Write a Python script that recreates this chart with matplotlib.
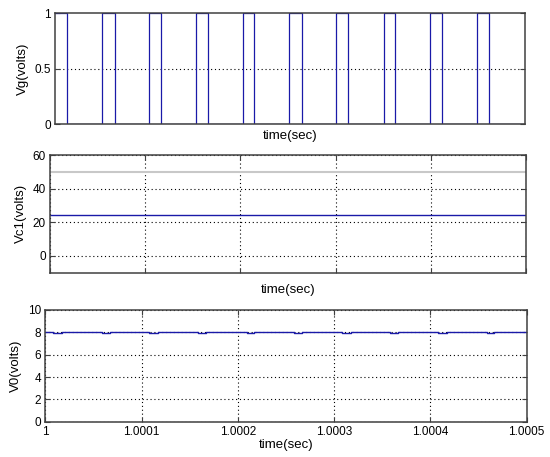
import matplotlib
matplotlib.use("Agg")
import matplotlib.pyplot as plt

plt.rcParams['font.family'] = ['Liberation Sans', 'DejaVu Sans']

# gate pulses (microseconds after t = 1 s)
gate_rise_us = [0, 50, 100, 150, 200, 249, 299, 350, 399, 449]
gate_fall_us = [12.5, 63.5, 113, 162.5, 212, 262.5, 312, 361.5, 412, 462]
gate_low, gate_high = 0, 1

# capacitor voltage traces
vc1_level = 24.2
vc1_ref_level = 50

# output voltage with small dips (microseconds after t = 1 s)
v0_level = 8.0
v0_dip_level = 7.9
v0_dip_start_us = [8, 59, 108, 159, 209, 258, 308, 358, 408, 459]
v0_dip_end_us = [17, 67, 117, 167, 217, 267, 317, 366, 417, 466]

t_start, t_end = 1.0, 1.0005
x_ticks = [1.0, 1.0001, 1.0002, 1.0003, 1.0004, 1.0005]
x_tick_labels = ['1', '1.0001', '1.0002', '1.0003', '1.0004', '1.0005']

BLUE = '#1a1aa8'
SPINE = '#404040'


def square_wave(starts_us, ends_us, base, other):
    t = [t_start]
    y = [base]
    for s, e in zip(starts_us, ends_us):
        ts = t_start + s * 1e-6
        te = t_start + e * 1e-6
        t += [ts, ts, te, te]
        y += [base, other, other, base]
    t.append(t_end)
    y.append(base)
    return t, y


def style(ax):
    for sp in ax.spines.values():
        sp.set_color(SPINE)
        sp.set_linewidth(1.1)
        sp.set_zorder(5)
    ax.tick_params(direction='in', length=3.5, width=0.8, color=SPINE,
                   top=True, right=True, labelsize=8.5, pad=3)
    ax.set_xlim(t_start, t_end)


fig = plt.figure(figsize=(5.5, 4.57), dpi=100)
W, H = 550, 457


def add_axes(left, right, top, bottom):
    return fig.add_axes([left / W, 1 - bottom / H, (right - left) / W, (bottom - top) / H])


# panel 1: gate signal
ax1 = add_axes(55.3, 525, 13.3, 124.3)
style(ax1)
t, y = square_wave(gate_rise_us, gate_fall_us, gate_low, gate_high)
# gate is high at t_start
y[0] = gate_high
y[1] = gate_high
ax1.plot(t, y, color=BLUE, lw=0.9, zorder=2)
ax1.set_ylim(0, 1)
ax1.set_yticks([0, 0.5, 1])
ax1.set_yticklabels(['0', '0.5', '1'])
ax1.set_xticks([])
ax1.axhline(0.5, color='black', ls=(0, (1, 2.5)), lw=0.8, zorder=1)
ax1.set_ylabel('Vg(volts)', fontsize=9.5)
ax1.set_xlabel('time(sec)', fontsize=9.5, labelpad=4)

# panel 2: capacitor voltage
ax2 = add_axes(50, 526, 155, 272.7)
style(ax2)
ax2.plot([t_start, t_end], [vc1_ref_level, vc1_ref_level], color='#c8c8c8', lw=1.5)
ax2.plot([t_start, t_end], [vc1_level, vc1_level], color=BLUE, lw=1)
ax2.set_ylim(-10, 60)
ax2.set_yticks([0, 20, 40, 60])
ax2.set_xticks(x_ticks)
ax2.set_xticklabels([])
ax2.grid(True, color='black', ls=(0, (1, 2.5)), lw=0.8)
ax2.set_ylabel('Vc1(volts)', fontsize=9.5)
ax2.set_xlabel('time(sec)', fontsize=9.5, labelpad=5)

# panel 3: output voltage
ax3 = add_axes(45.3, 526.7, 310, 421.7)
style(ax3)
t, y = square_wave(v0_dip_start_us, v0_dip_end_us, v0_level, v0_dip_level)
ax3.plot(t, y, color=BLUE, lw=1)
ax3.set_ylim(0, 10)
ax3.set_yticks([0, 2, 4, 6, 8, 10])
ax3.set_xticks(x_ticks)
ax3.set_xticklabels(x_tick_labels)
ax3.grid(True, color='black', ls=(0, (1, 2.5)), lw=0.8)
ax3.set_ylabel('V0(volts)', fontsize=9.5)
ax3.set_xlabel('time(sec)', fontsize=9.5, labelpad=1)

fig.savefig('out.png', dpi=100)
